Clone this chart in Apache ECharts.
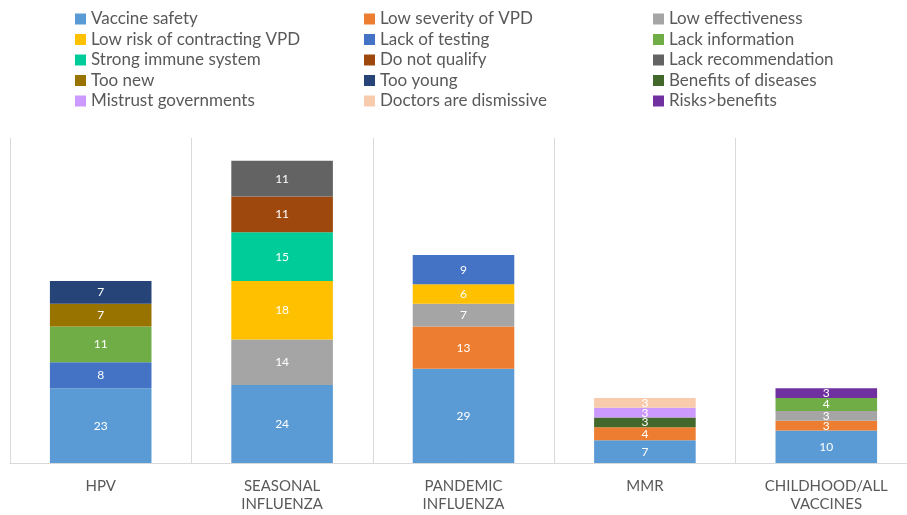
<!DOCTYPE html>
<html><head><meta charset="utf-8">
<script src="https://cdn.jsdelivr.net/npm/echarts@6/dist/echarts.min.js"></script>
<style>html,body{margin:0;padding:0;background:#fff}#c{width:907px;height:515px}</style>
</head><body><div id="c"></div>
<script>
const categories = ['HPV', 'SEASONAL\nINFLUENZA', 'PANDEMIC\nINFLUENZA', 'MMR', 'CHILDHOOD/ALL\nVACCINES'];
const seriesNames = ['Vaccine safety','Low severity of VPD','Low effectiveness','Low risk of contracting VPD','Lack of testing','Lack information','Strong immune system','Do not qualify','Lack recommendation','Too new','Too young','Benefits of diseases','Mistrust governments','Doctors are dismissive','Risks>benefits'];
const colors = ['#5B9BD5','#ED7D31','#A5A5A5','#FFC000','#4472C4','#70AD47','#00CC99','#9E480E','#636363','#997300','#264478','#43682B','#CC99FF','#F8CBAD','#7030A0'];
const vaccineSafety      = [23, 24, 29, 7, 10];
const lowSeverity        = [null, null, 13, 4, 3];
const lowEffectiveness   = [null, 14, 7, null, 3];
const lowRisk            = [null, 18, 6, null, null];
const lackTesting        = [8, null, 9, null, null];
const lackInformation    = [11, null, null, null, 4];
const strongImmune       = [null, 15, null, null, null];
const doNotQualify       = [null, 11, null, null, null];
const lackRecommendation = [null, 11, null, null, null];
const tooNew             = [7, null, null, null, null];
const tooYoung           = [7, null, null, null, null];
const benefitsDiseases   = [null, null, null, 3, null];
const mistrustGov        = [null, null, null, 3, null];
const doctorsDismissive  = [null, null, null, 3, null];
const risksBenefits      = [null, null, null, null, 3];
const seriesData = [vaccineSafety, lowSeverity, lowEffectiveness, lowRisk, lackTesting, lackInformation, strongImmune, doNotQualify, lackRecommendation, tooNew, tooYoung, benefitsDiseases, mistrustGov, doctorsDismissive, risksBenefits];

const font = 'Lato, "Open Sans", sans-serif';
const legendCols = [0,1,2].map(c => ({
  orient: 'vertical',
  left: [70, 359, 648][c],
  top: 5,
  itemWidth: 11, itemHeight: 11, itemGap: 2.5,
  icon: 'rect',
  textStyle: { fontFamily: font, fontSize: 17, color: '#595959', lineHeight: 18 },
  data: seriesNames.filter((_, i) => i % 3 === c)
}));

const chart = echarts.init(document.getElementById('c'));
chart.setOption({
  animation: false,
  color: colors,
  legend: legendCols,
  grid: { left: 10, top: 138, right: -10, height: 325, outerBoundsMode: 'none', containLabel: false },
  xAxis: {
    type: 'category', data: categories,
    axisLine: { lineStyle: { color: '#d9d9d9', width: 1 } },
    axisTick: { show: false },
    splitLine: { show: true, interval: 0, lineStyle: { color: '#d9d9d9', width: 1 } },
    axisLabel: { fontFamily: font, fontSize: 15, color: '#595959', margin: 14, lineHeight: 18, interval: 0 }
  },
  yAxis: { type: 'value', min: 0, max: 100, show: false, splitLine: { show: false } },
  series: seriesNames.map((n, i) => ({
    name: n, type: 'bar', stack: 'all', barWidth: '56%',
    data: seriesData[i],
    itemStyle: { color: colors[i] },
    label: { show: true, position: 'inside', color: '#fff', fontFamily: font, fontSize: 12 }
  }))
});
</script></body></html>
